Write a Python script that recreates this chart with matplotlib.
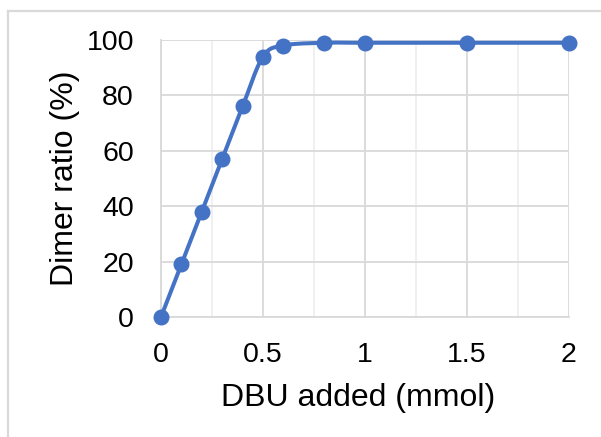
import numpy as np
import matplotlib

matplotlib.use("Agg")
import matplotlib.pyplot as plt
from matplotlib.lines import Line2D
from matplotlib.ticker import MultipleLocator

# Data
dbu_mmol = [0, 0.1, 0.2, 0.3, 0.4, 0.5, 0.6, 0.8, 1.0, 1.5, 2.0]
dimer_pct = [0, 19, 38, 57, 76, 94, 98, 99, 99, 99, 99]
x_ticks = [0, 0.5, 1, 1.5, 2]
x_tick_labels = ["0", "0.5", "1", "1.5", "2"]
y_ticks = [0, 20, 40, 60, 80, 100]

BLUE = "#4472C4"
GRID = "#d9d9d9"

plt.rcParams["font.family"] = ["Liberation Sans", "DejaVu Sans"]


def excel_smooth(xs, ys, sx, sy, n=30):
    # Excel-style smoothed line: cubic Bezier with Catmull-Rom control points,
    # computed in (roughly) pixel space so the curve looks the same.
    px = np.asarray(xs, float) * sx
    py = np.asarray(ys, float) * sy
    pts = np.column_stack([px, py])
    out = []
    for i in range(len(pts) - 1):
        p0 = pts[i - 1] if i > 0 else pts[i]
        p1 = pts[i]
        p2 = pts[i + 1]
        p3 = pts[i + 2] if i + 2 < len(pts) else pts[i + 1]
        c1 = p1 + (p2 - p0) / 6.0
        c2 = p2 - (p3 - p1) / 6.0
        t = np.linspace(0, 1, n)[:, None]
        seg = ((1 - t) ** 3) * p1 + 3 * ((1 - t) ** 2) * t * c1 \
            + 3 * (1 - t) * t ** 2 * c2 + t ** 3 * p2
        out.append(seg if i == 0 else seg[1:])
    curve = np.vstack(out)
    return curve[:, 0] / sx, curve[:, 1] / sy


fig = plt.figure(figsize=(6.01, 4.37), dpi=100)
W, H = 601, 437
ax_l, ax_r, ax_t, ax_b = 161, 569, 40, 317
ax = fig.add_axes([ax_l / W, 1 - ax_b / H, (ax_r - ax_l) / W, (ax_b - ax_t) / H])

ax.set_xlim(0, 2)
ax.set_ylim(0, 100)
ax.set_xticks(x_ticks)
ax.set_xticklabels(x_tick_labels)
ax.set_yticks(y_ticks)
ax.xaxis.set_minor_locator(MultipleLocator(0.25))

ax.grid(True, which="major", color=GRID, linewidth=1.3, zorder=0)
ax.grid(True, which="minor", axis="x", color="#efefef", linewidth=1.3, zorder=0)
for side in ("top", "right"):
    ax.spines[side].set_visible(False)
for side in ("left", "bottom"):
    ax.spines[side].set_color(GRID)
    ax.spines[side].set_linewidth(1.3)

ax.tick_params(which="both", length=0)
ax.tick_params(axis="y", labelsize=20.5, pad=19.5, colors="black")
ax.tick_params(axis="x", labelsize=20.5, pad=18, colors="black")

sx = (ax_r - ax_l) / 2.0
sy = (ax_b - ax_t) / 100.0
cx, cy = excel_smooth(dbu_mmol, dimer_pct, sx, sy)
ax.plot(cx, cy, color=BLUE, linewidth=2.9, solid_capstyle="round",
        zorder=3, clip_on=False)
ax.plot(dbu_mmol, dimer_pct, linestyle="none", marker="o", markersize=10.5,
        color=BLUE, zorder=4, clip_on=False)

fig.text(358 / W, 1 - 406 / H, "DBU added (mmol)", fontsize=23,
         ha="center", va="baseline")
fig.text(73 / W, 1 - 178.5 / H, "Dimer ratio (%)", fontsize=23,
         ha="center", va="baseline", rotation=90, rotation_mode="anchor")

# light frame of the chart area (runs off the right and bottom edges)
fig.add_artist(Line2D([7.5 / W, 7.5 / W], [0, 1 - 10.5 / H],
                      color=GRID, linewidth=1.6))
fig.add_artist(Line2D([7.5 / W, 1], [1 - 10.5 / H, 1 - 10.5 / H],
                      color=GRID, linewidth=1.6))

fig.savefig("out.png", dpi=100)
